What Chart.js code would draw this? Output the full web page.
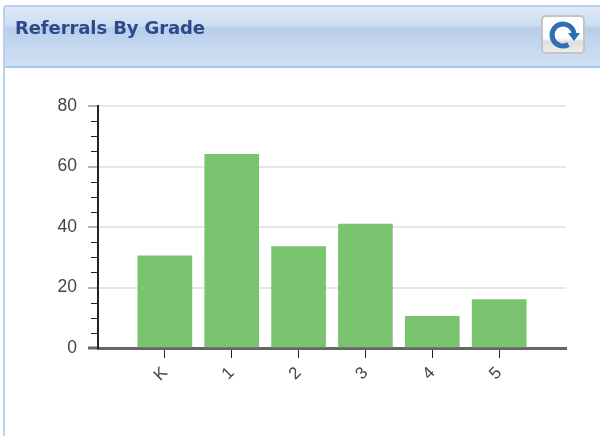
<!DOCTYPE html>
<html>
<head>
<meta charset="utf-8">
<title>Referrals By Grade</title>
<script src="https://cdn.jsdelivr.net/npm/chart.js@4"></script>
<style>
    html, body { margin: 0; padding: 0; background: #fff; }
    body { width: 600px; height: 436px; position: relative; overflow: hidden; }
    .panel {
        position: absolute; left: 3px; top: 5px; width: 620px; height: 460px;
        border: 2px solid #b9d0ef; border-radius: 4px; box-sizing: border-box;
    }
    .header {
        position: absolute; left: 5px; top: 7px; width: 600px; height: 61px;
        background: linear-gradient(#e0eaf8 0%, #cbdcf2 32%, #b6cce9 36%, #c4d6ef 60%, #cfdff3 100%);
        border-bottom: 2px solid #a9c6ec; box-sizing: border-box;
    }
    .title {
        position: absolute; left: 15px; top: 17px;
        font: bold 18px "DejaVu Sans", sans-serif; letter-spacing: -0.1px; color: #2b4a8b;
        filter: blur(0.5px);
    }
    .refresh {
        position: absolute; left: 541px; top: 15px; width: 44px; height: 39px;
        box-sizing: border-box; border: 2px solid #c4c4c4; border-radius: 5px;
        background: linear-gradient(#fff 0%, #fff 60%, #dedede 70%, #ececec 100%);
        filter: blur(0.5px);
    }
    .refresh svg { position: absolute; left: 5px; top: 2px; }
    canvas { position: absolute; left: 0; top: 0; filter: blur(0.5px); }
</style>
</head>
<body>
<div class="panel"></div>
<div class="header"></div>
<div class="title">Referrals By Grade</div>
<div class="refresh">
    <svg width="32" height="32" viewBox="0 0 32 32">
        <path d="M20.5 25.5 A11 11 0 1 1 26 15" fill="none" stroke="#2f6db5" stroke-width="5"/>
        <path d="M20 14 L32 14 L26 22 Z" fill="#2f6db5"/>
    </svg>
</div>
<canvas id="referrals-chart" width="600" height="436"></canvas>
<script>
// blank slots either side keep the bars away from the axis ends
const grades = ['', 'K', '1', '2', '3', '4', '5', ''];
const referrals = [null, 30.5, 64, 33.5, 41, 10.5, 16, null];
const yMax = 80;
const yStep = 5;
const yLabelStep = 20;

// Short ticks for the in-between values, Chart.js only has one tick length
const minorTicks = {
    id: 'minorTicks',
    afterDatasetsDraw(chart) {
        const scale = chart.scales.y;
        const ctx = chart.ctx;
        ctx.save();
        ctx.strokeStyle = '#222';
        ctx.lineWidth = 1;
        scale.ticks.forEach(tick => {
            if (tick.value % yLabelStep === 0) return;
            const y = Math.round(scale.getPixelForValue(tick.value)) + 0.5;
            ctx.beginPath();
            ctx.moveTo(chart.chartArea.left - 7, y);
            ctx.lineTo(chart.chartArea.left, y);
            ctx.stroke();
        });
        ctx.restore();
    }
};

new Chart(document.getElementById('referrals-chart'), {
    type: 'bar',
    data: {
        labels: grades,
        datasets: [{
            data: referrals,
            backgroundColor: '#7ac36f',
            barThickness: 54
        }]
    },
    options: {
        responsive: false,
        animation: false,
        layout: { padding: { top: 106, right: 34, left: 0, bottom: 0 } },
        plugins: { legend: { display: false }, tooltip: { enabled: false } },
        scales: {
            x: {
                offset: false,
                afterFit(scale) { scale.height = 88; },
                afterBuildTicks(scale) {
                    scale.ticks = scale.ticks.filter(t => grades[t.value] !== '');
                },
                border: { color: '#666', width: 3 },
                grid: { offset: false, drawOnChartArea: false, drawTicks: true, tickLength: 10, tickColor: '#222', tickWidth: 1 },
                ticks: {
                    autoSkip: false,
                    minRotation: 45,
                    maxRotation: 45,
                    padding: 5,
                    color: '#444',
                    font: { family: '"Liberation Sans", Arial, sans-serif', size: 17 }
                }
            },
            y: {
                min: 0,
                max: yMax,
                afterFit(scale) { scale.width = 98; },
                border: { color: '#222', width: 2 },
                grid: {
                    color: ctx => ctx.tick.value % yLabelStep === 0 && ctx.tick.value !== 0 ? '#e6e6e6' : 'transparent',
                    lineWidth: 2,
                    tickLength: 10,
                    tickColor: ctx => ctx.tick.value % yLabelStep === 0 ? '#666' : 'transparent',
                    tickWidth: ctx => ctx.tick.value === 0 ? 3 : 1
                },
                ticks: {
                    stepSize: yStep,
                    autoSkip: false,
                    padding: 11,
                    color: '#444',
                    font: { family: '"Liberation Sans", Arial, sans-serif', size: 17.5 },
                    callback: value => value % yLabelStep === 0 ? value : ''
                }
            }
        }
    },
    plugins: [minorTicks]
});
</script>
</body>
</html>
